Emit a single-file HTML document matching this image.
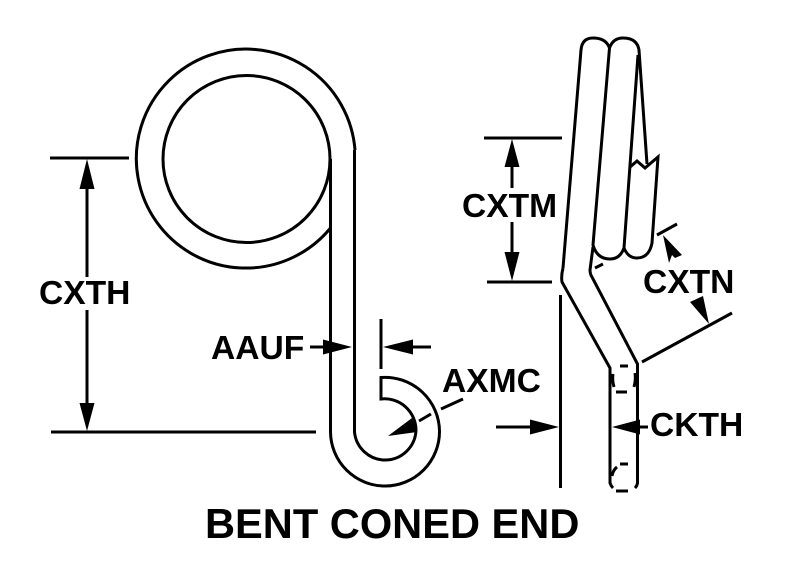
<!DOCTYPE html>
<html><head><meta charset="utf-8"><style>
html,body{margin:0;padding:0;background:#fff}
svg{display:block}
text{font-family:"Liberation Sans",sans-serif;font-weight:bold;fill:#000;font-size:33.6px}
.l{fill:none;stroke:#000;stroke-width:3}
.a{fill:#000;stroke:none}
</style></head><body>
<svg width="788" height="577" viewBox="0 0 788 577" xmlns="http://www.w3.org/2000/svg">
<rect width="788" height="577" fill="#fff"/>
<!-- left spring -->
<circle class="l" cx="246.500" cy="159" r="83.500"/>
<path class="l" d="M330.500 228 A109.500 109.500 0 1 1 355 150"/>
<path class="l" d="M330.500 159 V432 A54.500 54.500 0 0 0 385 486 A54.500 54.500 0 0 0 439.500 431.500 A54.500 54.500 0 0 0 381 377.500 V399 A31.500 31.500 0 0 1 416 430 A31 31 0 0 1 385 460 A31 31 0 0 1 354.500 432 V150"/>
<!-- CXTH dim -->
<path class="l" d="M50 158H129M51 432H316M87 185V277M87 310V405"/>
<polygon class="a" points="87,159 94.500,189 79.500,189"/>
<polygon class="a" points="87,431 94.500,403 79.500,403"/>
<!-- AAUF dim -->
<path class="l" d="M310 347H325M381 319V369M410 347H431"/>
<polygon class="a" points="352,347 323,339.500 323,354.500"/>
<polygon class="a" points="383,347 413,339.500 413,354.500"/>
<!-- AXMC -->
<polygon class="a" points="388,436 412,418 417,432"/>
<path class="l" d="M419 421L431 414M441 409L463 399"/>
<!-- right coil -->
<path class="l" d="M563 268L581 50Q582 38 593 38Q606 38 609.500 48L593 245Q597 259 610 259Q620 259 624 248L638 55"/>
<path class="l" d="M609.500 48Q613 38 623 38Q637 38 639 50L647 164"/>
<path class="l" d="M630 167L637 161L645 168L658 157L652 243Q649 258 637 258Q628 258 624 248"/>
<path class="l" d="M593 247L590 270Q590 274 592 277L637.500 364V483Q637 486 635 488M563 268Q561 276 562 282L610 368V483Q611 486 613 488M595 268L603 264"/>
<!-- dashed circles -->
<path class="l" d="M620 366H628M635 373Q636 380 634 387M616 392H627M613 374Q612 380 614 387M620 464H628M612 476Q613 470 617 467M616 491H628"/>
<!-- CXTM dim -->
<path class="l" d="M484 138H562M487 282H552M512 165V188M512 222V254"/>
<polygon class="a" points="512,139 519.500,167 504.500,167"/>
<polygon class="a" points="512,281 519.500,252 504.500,252"/>
<!-- CXTN dim -->
<path class="l" d="M657 235L677 224M642 362L732 313"/>
<polygon class="a" points="663,235 682,255 675,258 672,255 669,263"/>
<polygon class="a" points="709,324 690,302 703,296"/>
<!-- lower dim -->
<path class="l" d="M560.500 295V488M496 427H530M635 427H648"/>
<polygon class="a" points="559,427 530,419.500 530,434.500"/>
<polygon class="a" points="612,427 640,419.500 640,434.500"/>
<!-- labels -->
<text x="39" y="304">CXTH</text>
<text x="211" y="359">AAUF</text>
<text x="442" y="392">AXMC</text>
<text x="462" y="217">CXTM</text>
<text x="643" y="293">CXTN</text>
<text x="650" y="436">CKTH</text>
<text x="205" y="538" style="font-size:41.600px">BENT CONED END</text>
</svg>
</body></html>
